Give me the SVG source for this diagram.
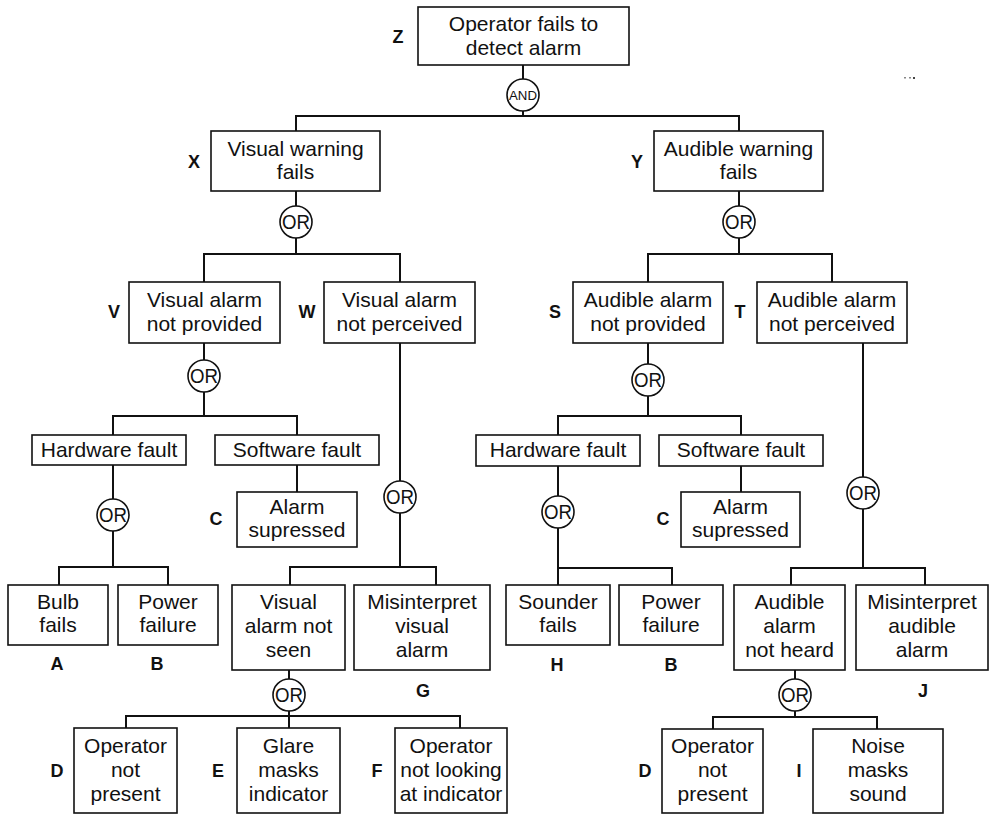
<svg xmlns="http://www.w3.org/2000/svg" width="990" height="818" viewBox="0 0 990 818">
  <style>
    .box { fill: #ffffff; stroke: #111111; stroke-width: 1.6; }
    .gate { fill: #ffffff; stroke: #111111; stroke-width: 1.6; }
    .wire { fill: none; stroke: #111111; stroke-width: 2; stroke-linecap: square; }
    .txt { font-family: "Liberation Sans", Arial, Helvetica, sans-serif; font-size: 21px; fill: #111111; text-anchor: middle; }
    .lbl { font-family: "Liberation Sans", Arial, Helvetica, sans-serif; font-size: 18px; font-weight: bold; fill: #111111; text-anchor: middle; }
    .or { font-family: "Liberation Sans", Arial, Helvetica, sans-serif; font-size: 20px; fill: #111111; text-anchor: middle; }
    .and { font-family: "Liberation Sans", Arial, Helvetica, sans-serif; font-size: 13px; fill: #111111; text-anchor: middle; }
  </style>

  <rect width="990" height="818" fill="#ffffff"/>

  <!-- connectors -->
  <g id="connectors" class="wire">
    <!-- Z -> AND -> X, Y -->
    <path d="M523 65 V79 M523 111 V116 M296 116 H739 M296 116 V131 M739 116 V131"/>
    <!-- X -> OR -> V, W -->
    <path d="M296 191 V206 M296 238 V254 M204 254 H400 M204 254 V282 M400 254 V282"/>
    <!-- Y -> OR -> S, T -->
    <path d="M739 191 V206 M739 238 V254 M648 254 H832 M648 254 V282 M832 254 V282"/>
    <!-- V -> OR -> hardware, software -->
    <path d="M204 343 V360 M204 392 V416 M113 416 H297 M113 416 V435 M297 416 V435"/>
    <!-- hardware -> OR -> A, B -->
    <path d="M113 465 V499 M113 531 V567 M59 567 H168 M59 567 V585 M168 567 V585"/>
    <!-- software -> C -->
    <path d="M297 465 V492"/>
    <!-- W -> OR -> not seen, G -->
    <path d="M400 343 V481 M400 513 V567 M290 567 H436 M290 567 V585 M436 567 V585"/>
    <!-- not seen -> OR -> D, E, F -->
    <path d="M289 670 V679 M289 711 V716 M126 716 H460 M126 716 V728 M289 716 V728 M460 716 V728"/>
    <!-- S -> OR -> hardware, software -->
    <path d="M648 343 V364 M648 396 V416 M558 416 H741 M558 416 V435 M741 416 V435"/>
    <!-- hardware -> OR -> H, B -->
    <path d="M558 466 V496 M558 528 V568 M558 568 H672 M558 568 V585 M672 568 V585"/>
    <!-- software -> C -->
    <path d="M741 466 V492"/>
    <!-- T -> OR -> not heard, J -->
    <path d="M863 343 V477 M863 509 V568 M791 568 H925 M791 568 V585 M925 568 V585"/>
    <!-- not heard -> OR -> D, I -->
    <path d="M795 670 V679 M795 711 V717 M713 717 H877 M713 717 V729 M877 717 V729"/>
  </g>

  <!-- gates -->
  <g id="gate-and-z">
    <circle class="gate" cx="523" cy="95" r="16"/>
    <text class="and" x="523" y="100" textLength="28" lengthAdjust="spacingAndGlyphs">AND</text>
  </g>
  <g id="gate-or-x">
    <circle class="gate" cx="296" cy="222" r="16"/>
    <text class="or" x="296" y="229" textLength="28" lengthAdjust="spacingAndGlyphs">OR</text>
  </g>
  <g id="gate-or-y">
    <circle class="gate" cx="739" cy="222" r="16"/>
    <text class="or" x="739" y="229" textLength="28" lengthAdjust="spacingAndGlyphs">OR</text>
  </g>
  <g id="gate-or-v">
    <circle class="gate" cx="204" cy="376" r="16"/>
    <text class="or" x="204" y="383" textLength="28" lengthAdjust="spacingAndGlyphs">OR</text>
  </g>
  <g id="gate-or-v-hw">
    <circle class="gate" cx="113" cy="515" r="16"/>
    <text class="or" x="113" y="522" textLength="28" lengthAdjust="spacingAndGlyphs">OR</text>
  </g>
  <g id="gate-or-w">
    <circle class="gate" cx="400" cy="497" r="16"/>
    <text class="or" x="400" y="504" textLength="28" lengthAdjust="spacingAndGlyphs">OR</text>
  </g>
  <g id="gate-or-notseen">
    <circle class="gate" cx="289" cy="695" r="16"/>
    <text class="or" x="289" y="702" textLength="28" lengthAdjust="spacingAndGlyphs">OR</text>
  </g>
  <g id="gate-or-s">
    <circle class="gate" cx="648" cy="380" r="16"/>
    <text class="or" x="648" y="387" textLength="28" lengthAdjust="spacingAndGlyphs">OR</text>
  </g>
  <g id="gate-or-s-hw">
    <circle class="gate" cx="558" cy="512" r="16"/>
    <text class="or" x="558" y="519" textLength="28" lengthAdjust="spacingAndGlyphs">OR</text>
  </g>
  <g id="gate-or-t">
    <circle class="gate" cx="863" cy="493" r="16"/>
    <text class="or" x="863" y="500" textLength="28" lengthAdjust="spacingAndGlyphs">OR</text>
  </g>
  <g id="gate-or-notheard">
    <circle class="gate" cx="795" cy="695" r="16"/>
    <text class="or" x="795" y="702" textLength="28" lengthAdjust="spacingAndGlyphs">OR</text>
  </g>

  <!-- events -->
  <g id="node-z">
    <rect class="box" x="418" y="7" width="211" height="58"/>
    <text class="txt" x="523.5" y="31">Operator fails to</text>
    <text class="txt" x="523.5" y="55">detect alarm</text>
    <text class="lbl" x="398" y="43">Z</text>
  </g>
  <g id="node-x">
    <rect class="box" x="211" y="131" width="169" height="60"/>
    <text class="txt" x="295.5" y="156">Visual warning</text>
    <text class="txt" x="295.5" y="179">fails</text>
    <text class="lbl" x="194" y="168">X</text>
  </g>
  <g id="node-y">
    <rect class="box" x="654" y="131" width="169" height="60"/>
    <text class="txt" x="738.5" y="156">Audible warning</text>
    <text class="txt" x="738.5" y="179">fails</text>
    <text class="lbl" x="637" y="168">Y</text>
  </g>
  <g id="node-v">
    <rect class="box" x="129" y="282" width="151" height="61"/>
    <text class="txt" x="204.5" y="307">Visual alarm</text>
    <text class="txt" x="204.5" y="331">not provided</text>
    <text class="lbl" x="114" y="318">V</text>
  </g>
  <g id="node-w">
    <rect class="box" x="324" y="282" width="151" height="61"/>
    <text class="txt" x="399.5" y="307">Visual alarm</text>
    <text class="txt" x="399.5" y="331">not perceived</text>
    <text class="lbl" x="307" y="318">W</text>
  </g>
  <g id="node-s">
    <rect class="box" x="573" y="282" width="150" height="61"/>
    <text class="txt" x="648" y="307">Audible alarm</text>
    <text class="txt" x="648" y="331">not provided</text>
    <text class="lbl" x="555" y="318">S</text>
  </g>
  <g id="node-t">
    <rect class="box" x="757" y="282" width="150" height="61"/>
    <text class="txt" x="832" y="307">Audible alarm</text>
    <text class="txt" x="832" y="331">not perceived</text>
    <text class="lbl" x="740" y="318">T</text>
  </g>

  <g id="node-v-hardware">
    <rect class="box" x="32" y="435" width="154" height="30"/>
    <text class="txt" x="109" y="457">Hardware fault</text>
  </g>
  <g id="node-v-software">
    <rect class="box" x="215" y="435" width="164" height="30"/>
    <text class="txt" x="297" y="457">Software fault</text>
  </g>
  <g id="node-v-c">
    <rect class="box" x="237" y="492" width="120" height="55"/>
    <text class="txt" x="297" y="514">Alarm</text>
    <text class="txt" x="297" y="537">supressed</text>
    <text class="lbl" x="216" y="525">C</text>
  </g>
  <g id="node-s-hardware">
    <rect class="box" x="476" y="435" width="164" height="31"/>
    <text class="txt" x="558" y="457">Hardware fault</text>
  </g>
  <g id="node-s-software">
    <rect class="box" x="659" y="435" width="164" height="31"/>
    <text class="txt" x="741" y="457">Software fault</text>
  </g>
  <g id="node-s-c">
    <rect class="box" x="681" y="492" width="119" height="55"/>
    <text class="txt" x="740.5" y="514">Alarm</text>
    <text class="txt" x="740.5" y="537">supressed</text>
    <text class="lbl" x="663" y="525">C</text>
  </g>

  <g id="node-a">
    <rect class="box" x="8" y="585" width="100" height="60"/>
    <text class="txt" x="58" y="609">Bulb</text>
    <text class="txt" x="58" y="632">fails</text>
    <text class="lbl" x="57" y="670">A</text>
  </g>
  <g id="node-v-b">
    <rect class="box" x="118" y="585" width="100" height="60"/>
    <text class="txt" x="168" y="609">Power</text>
    <text class="txt" x="168" y="632">failure</text>
    <text class="lbl" x="157" y="670">B</text>
  </g>
  <g id="node-notseen">
    <rect class="box" x="232" y="585" width="113" height="85"/>
    <text class="txt" x="288.5" y="609">Visual</text>
    <text class="txt" x="288.5" y="633">alarm not</text>
    <text class="txt" x="288.5" y="657">seen</text>
  </g>
  <g id="node-g">
    <rect class="box" x="354" y="585" width="136" height="85"/>
    <text class="txt" x="422" y="609">Misinterpret</text>
    <text class="txt" x="422" y="633">visual</text>
    <text class="txt" x="422" y="657">alarm</text>
    <text class="lbl" x="423" y="697">G</text>
  </g>
  <g id="node-h">
    <rect class="box" x="506" y="585" width="104" height="60"/>
    <text class="txt" x="558" y="609">Sounder</text>
    <text class="txt" x="558" y="632">fails</text>
    <text class="lbl" x="557" y="671">H</text>
  </g>
  <g id="node-s-b">
    <rect class="box" x="619" y="585" width="104" height="60"/>
    <text class="txt" x="671" y="609">Power</text>
    <text class="txt" x="671" y="632">failure</text>
    <text class="lbl" x="671" y="671">B</text>
  </g>
  <g id="node-notheard">
    <rect class="box" x="734" y="585" width="111" height="85"/>
    <text class="txt" x="789.5" y="609">Audible</text>
    <text class="txt" x="789.5" y="633">alarm</text>
    <text class="txt" x="789.5" y="657">not heard</text>
  </g>
  <g id="node-j">
    <rect class="box" x="856" y="585" width="132" height="85"/>
    <text class="txt" x="922" y="609">Misinterpret</text>
    <text class="txt" x="922" y="633">audible</text>
    <text class="txt" x="922" y="657">alarm</text>
    <text class="lbl" x="923" y="697">J</text>
  </g>

  <g id="node-v-d">
    <rect class="box" x="74" y="728" width="103" height="85"/>
    <text class="txt" x="125.5" y="753">Operator</text>
    <text class="txt" x="125.5" y="777">not</text>
    <text class="txt" x="125.5" y="801">present</text>
    <text class="lbl" x="57" y="777">D</text>
  </g>
  <g id="node-e">
    <rect class="box" x="237" y="728" width="103" height="85"/>
    <text class="txt" x="288.5" y="753">Glare</text>
    <text class="txt" x="288.5" y="777">masks</text>
    <text class="txt" x="288.5" y="801">indicator</text>
    <text class="lbl" x="218" y="777">E</text>
  </g>
  <g id="node-f">
    <rect class="box" x="395" y="728" width="112" height="85"/>
    <text class="txt" x="451" y="753">Operator</text>
    <text class="txt" x="451" y="777">not looking</text>
    <text class="txt" x="451" y="801">at indicator</text>
    <text class="lbl" x="377" y="777">F</text>
  </g>
  <g id="node-t-d">
    <rect class="box" x="662" y="729" width="101" height="84"/>
    <text class="txt" x="712.5" y="753">Operator</text>
    <text class="txt" x="712.5" y="777">not</text>
    <text class="txt" x="712.5" y="801">present</text>
    <text class="lbl" x="645" y="777">D</text>
  </g>
  <g id="node-i">
    <rect class="box" x="813" y="729" width="130" height="84"/>
    <text class="txt" x="878" y="753">Noise</text>
    <text class="txt" x="878" y="777">masks</text>
    <text class="txt" x="878" y="801">sound</text>
    <text class="lbl" x="799" y="777">I</text>
  </g>

  <!-- faint specks near the upper right -->
  <g fill="#888888">
    <rect x="904" y="77" width="2" height="1.5"/>
    <rect x="909" y="77" width="2" height="1.5"/>
    <rect x="913" y="77" width="2" height="2" fill="#444444"/>
  </g>
</svg>
